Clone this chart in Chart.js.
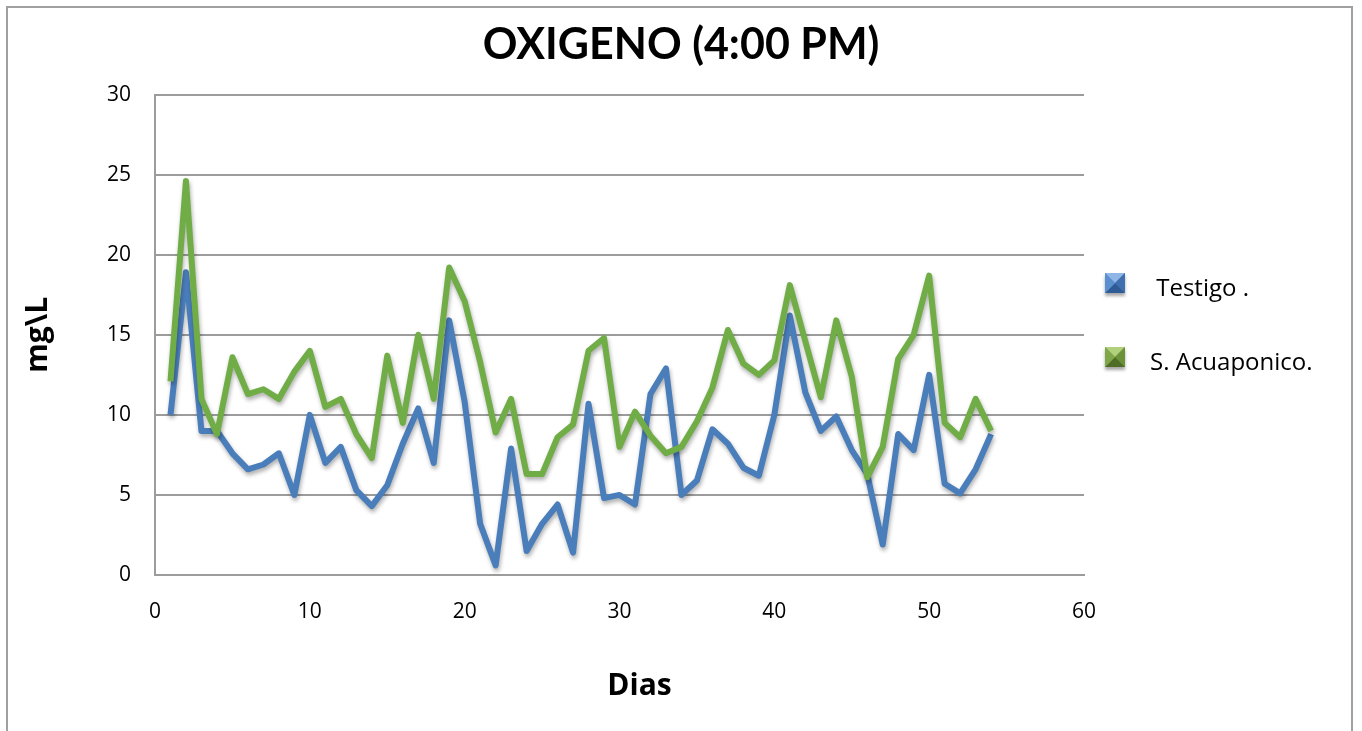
<!DOCTYPE html>
<html lang="es">
<head>
<meta charset="utf-8">
<title>OXIGENO (4:00 PM)</title>
<script src="https://cdn.jsdelivr.net/npm/chart.js@4.4.1/dist/chart.umd.min.js"></script>
<style>
  html, body { margin: 0; padding: 0; background: #fff; overflow: hidden; }
  #wrap { position: relative; width: 1362px; height: 731px; background: #fff; }
  #wrap canvas { position: absolute; left: 0; top: 0; }
  #frame {
    position: absolute; left: 6px; top: 6px; width: 1347px; height: 780px;
    box-sizing: border-box; border: 2px solid #a0a0a0; pointer-events: none;
  }
</style>
</head>
<body>
<div id="wrap">
  <canvas id="chart" width="1362" height="731"></canvas>
  <div id="frame"></div>
</div>
<script>
// Dissolved oxygen (mg\L) measured daily at 4:00 PM
const dias = [1, 2, 3, 4, 5, 6, 7, 8, 9, 10, 11, 12, 13, 14, 15, 16, 17, 18,
  19, 20, 21, 22, 23, 24, 25, 26, 27, 28, 29, 30, 31, 32, 33, 34, 35, 36,
  37, 38, 39, 40, 41, 42, 43, 44, 45, 46, 47, 48, 49, 50, 51, 52, 53, 54];

const testigo = [10.0, 18.9, 9.0, 9.0, 7.6, 6.6, 6.9, 7.6, 5.0, 10.0, 7.0, 8.0,
  5.3, 4.3, 5.6, 8.2, 10.4, 7.0, 15.9, 10.8, 3.2, 0.6, 7.9, 1.5, 3.2, 4.4, 1.4,
  10.7, 4.8, 5.0, 4.4, 11.3, 12.9, 5.0, 5.9, 9.1, 8.2, 6.7, 6.2, 10.0, 16.2,
  11.4, 9.0, 9.9, 7.8, 6.3, 1.9, 8.8, 7.8, 12.5, 5.7, 5.1, 6.6, 8.8];

const acuaponico = [12.1, 24.6, 11.0, 8.8, 13.6, 11.3, 11.6, 11.0, 12.7, 14.0,
  10.5, 11.0, 8.8, 7.3, 13.7, 9.5, 15.0, 11.0, 19.2, 17.1, 13.3, 8.9, 11.0, 6.3,
  6.3, 8.6, 9.4, 14.0, 14.8, 8.0, 10.2, 8.7, 7.6, 8.0, 9.6, 11.7, 15.3, 13.2,
  12.5, 13.4, 18.1, 14.6, 11.1, 15.9, 12.4, 6.1, 8.0, 13.5, 15.0, 18.7, 9.5,
  8.6, 11.0, 9.0];

const seriesNames = [' Testigo .', 'S. Acuaponico.'];
const xTicks = [0, 10, 20, 30, 40, 50, 60];
const yTicks = [0, 5, 10, 15, 20, 25, 30];
const xAxisName = 'Dias';

const BLUE = '#4a7ebb';
const GREEN = '#71ad47';
const GRID = '#9c9c9c';

// bevelled legend swatch colours: top, left, right, bottom facets
const swatches = [
  { top: '#8fb6e6', left: '#5c8fcf', right: '#3f6fae', bottom: '#2e5b96' },
  { top: '#b1d07c', left: '#80a64a', right: '#6b9139', bottom: '#4f6d27' }
];

Chart.defaults.font.family = "'Open Sans', sans-serif";
Chart.defaults.color = '#000';

// soft drop shadow under each series line
const lineShadow = {
  id: 'lineShadow',
  beforeDatasetDraw(chart) {
    const ctx = chart.ctx;
    ctx.save();
    ctx.shadowColor = 'rgba(0,0,0,0.32)';
    ctx.shadowBlur = 4;
    ctx.shadowOffsetX = 1;
    ctx.shadowOffsetY = 3;
  },
  afterDatasetDraw(chart) {
    chart.ctx.restore();
  }
};

function facet(ctx, pts, color) {
  ctx.beginPath();
  ctx.moveTo(pts[0], pts[1]);
  ctx.lineTo(pts[2], pts[3]);
  ctx.lineTo(pts[4], pts[5]);
  ctx.closePath();
  ctx.fillStyle = color;
  ctx.fill();
}

function bevelSwatch(ctx, x, y, s, c) {
  const cx = x + s / 2, cy = y + s / 2;
  ctx.save();
  ctx.shadowColor = 'rgba(0,0,0,0.35)';
  ctx.shadowBlur = 3;
  ctx.shadowOffsetY = 3;
  ctx.fillStyle = c.left;
  ctx.fillRect(x, y, s, s);
  ctx.restore();
  facet(ctx, [x, y, x + s, y, cx, cy], c.top);
  facet(ctx, [x + s, y, x + s, y + s, cx, cy], c.right);
  facet(ctx, [x, y + s, x + s, y + s, cx, cy], c.bottom);
  facet(ctx, [x, y, x, y + s, cx, cy], c.left);
}

// legend column on the right: reserves its own layout box, then draws
// one bevelled swatch and name per series
const LEGEND_WIDTH = 278;
const bevelLegend = {
  id: 'bevelLegend',
  start(chart) {
    const box = {
      position: 'right',
      weight: 1000,
      fullSize: false,
      options: {},
      left: 0, top: 0, right: 0, bottom: 0, width: 0, height: 0,
      isHorizontal() { return false; },
      update(maxWidth, maxHeight) {
        this.width = LEGEND_WIDTH;
        this.height = maxHeight;
      },
      draw() {}
    };
    Chart.layouts.addBox(chart, box);
    chart.$bevelLegendBox = box;
  },
  afterDraw(chart) {
    const box = chart.$bevelLegendBox;
    const ctx = chart.ctx;
    const swatchX = box.left + 21;
    const textX = box.left + 66;
    const rowY = [289, 363];
    ctx.save();
    ctx.font = "24px 'Open Sans', sans-serif";
    ctx.textBaseline = 'middle';
    ctx.textAlign = 'left';
    chart.data.datasets.forEach((ds, i) => {
      bevelSwatch(ctx, swatchX, rowY[i] - 16, 20, swatches[i]);
      ctx.fillStyle = '#000';
      ctx.fillText(ds.label, textX, rowY[i]);
    });
    ctx.restore();
  }
};

// x-axis caption, set a little right of the plot centre, under the tick labels
const xCaption = {
  id: 'xCaption',
  afterDraw(chart) {
    const xs = chart.scales.x;
    const ctx = chart.ctx;
    ctx.save();
    ctx.font = "bold 30px 'Open Sans', sans-serif";
    ctx.fillStyle = '#000';
    ctx.textAlign = 'center';
    ctx.textBaseline = 'middle';
    ctx.fillText(xAxisName, (xs.left + xs.right) / 2 + 20, xs.bottom - 45);
    ctx.restore();
  }
};

new Chart(document.getElementById('chart'), {
  type: 'line',
  data: {
    labels: dias,
    datasets: [
      {
        label: seriesNames[0],
        data: testigo,
        borderColor: BLUE,
        backgroundColor: BLUE,
        borderWidth: 6,
        pointRadius: 0,
        tension: 0,
        borderJoinStyle: 'round',
        order: 1
      },
      {
        label: seriesNames[1],
        data: acuaponico,
        borderColor: GREEN,
        backgroundColor: GREEN,
        borderWidth: 6,
        pointRadius: 0,
        tension: 0,
        borderJoinStyle: 'round',
        order: 0
      }
    ]
  },
  options: {
    responsive: false,
    animation: false,
    devicePixelRatio: 1,
    layout: { padding: 0 },
    plugins: {
      legend: { display: false },
      tooltip: { enabled: false },
      title: {
        display: true,
        text: 'OXIGENO (4:00 PM)',
        color: '#000',
        font: { family: "Lato, 'Open Sans', sans-serif", size: 43, weight: 'bold' },
        padding: { top: 19, bottom: 24 }
      }
    },
    scales: {
      x: {
        type: 'linear',
        min: 0,
        max: 60,
        afterBuildTicks(scale) { scale.ticks = xTicks.map(v => ({ value: v })); },
        afterFit(scale) { scale.height = 156; },
        grid: { display: false, drawTicks: false },
        border: { display: true, color: GRID, width: 2 },
        ticks: { padding: 24, font: { size: 21 }, color: '#000' },
        title: { display: false }
      },
      y: {
        min: 0,
        max: 30,
        afterBuildTicks(scale) { scale.ticks = yTicks.map(v => ({ value: v })); },
        afterFit(scale) { scale.width = 155; },
        grid: { color: GRID, lineWidth: 2, drawTicks: false },
        border: { display: true, color: GRID, width: 2 },
        ticks: { padding: 24, font: { size: 21 }, color: '#000' },
        title: {
          display: true,
          text: 'mg\\L',
          color: '#000',
          font: { size: 30, weight: 'bold' },
          padding: { top: 20, bottom: 0 }
        }
      }
    }
  },
  plugins: [lineShadow, bevelLegend, xCaption]
});
</script>
</body>
</html>
